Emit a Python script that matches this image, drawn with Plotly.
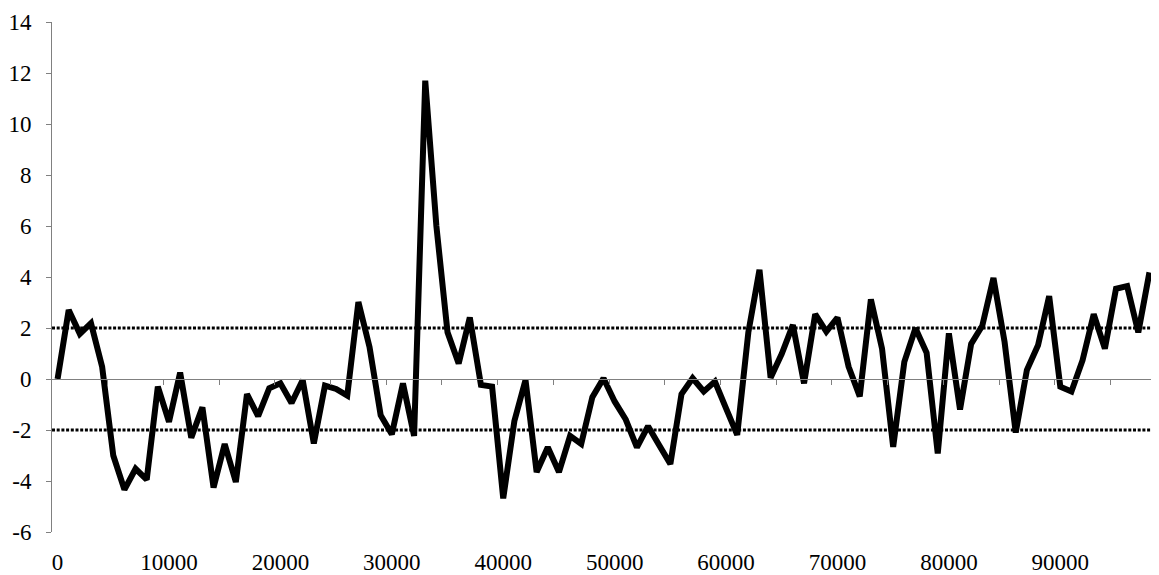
import plotly.graph_objects as go

# Categories: sample positions (one every 1000)
x_values = list(range(0, 99000, 1000))

# Series values
y_values = [
    0.00, 2.71, 1.77, 2.19, 0.48, -3.00, -4.34, -3.52, -3.95, -0.30,
    -1.68, 0.25, -2.30, -1.11, -4.26, -2.55, -4.04, -0.59, -1.46, -0.36,
    -0.17, -0.94, -0.04, -2.53, -0.26, -0.39, -0.65, 3.02, 1.25, -1.42,
    -2.17, -0.17, -2.23, 11.70, 6.00, 1.83, 0.61, 2.41, -0.23, -0.30,
    -4.68, -1.65, -0.04, -3.65, -2.68, -3.65, -2.23, -2.55, -0.71, 0.03,
    -0.88, -1.59, -2.68, -1.85, -2.60, -3.33, -0.59, 0.03, -0.49, -0.10,
    -1.15, -2.19, 1.83, 4.28, 0.05, 0.99, 2.12, -0.17, 2.54, 1.86,
    2.41, 0.48, -0.68, 3.12, 1.19, -2.66, 0.67, 1.99, 1.03, -2.92,
    1.79, -1.20, 1.38, 2.09, 3.96, 1.45, -2.10, 0.35, 1.32, 3.25,
    -0.30, -0.49, 0.74, 2.54, 1.19, 3.54, 3.64, 1.83, 4.18,
]

# Threshold lines
thresholds = [2, -2]

# Axis tick labels
x_tick_labels = [0, 10000, 20000, 30000, 40000, 50000, 60000, 70000, 80000, 90000]
y_tick_labels = [-6, -4, -2, 0, 2, 4, 6, 8, 10, 12, 14]

step = x_values[1] - x_values[0]
half = step / 2
x_range = [x_values[0] - half, x_values[-1] + half]
# tick marks between categories, every 5 categories
x_minor_ticks = [x_values[0] - half + 5 * step * i for i in range(1, 20)]

FONT = "Liberation Serif"
AXIS_COLOR = "#808080"

fig = go.Figure()

fig.add_trace(go.Scatter(
    x=x_values, y=y_values, mode="lines",
    line=dict(color="black", width=6),
    xaxis="x", yaxis="y", showlegend=False, hoverinfo="x+y",
))
# invisible trace to carry the bottom label axis
fig.add_trace(go.Scatter(
    x=[x_values[0]], y=[y_values[0]], mode="markers",
    marker=dict(opacity=0), xaxis="x2", yaxis="y",
    showlegend=False, hoverinfo="skip",
))

for t in thresholds:
    fig.add_shape(type="line", xref="paper", yref="y", x0=0, x1=1, y0=t, y1=t,
                  line=dict(color="black", width=3, dash="3px,1.7px"), layer="above")

ymin, ymax = y_tick_labels[0], y_tick_labels[-1]
zero_pos = (0 - ymin) / (ymax - ymin)

# page body has an 8px default margin; size the figure to fit the window
fig.update_layout(
    width=1151, height=567,
    margin=dict(l=44, r=4, t=14, b=43, autoexpand=False),
    paper_bgcolor="white", plot_bgcolor="white",
    font=dict(family=FONT, size=23, color="black"),
    xaxis=dict(
        range=x_range, anchor="free", position=zero_pos,
        showline=True, linecolor=AXIS_COLOR, linewidth=1,
        tickmode="array", tickvals=x_minor_ticks, ticks="outside",
        ticklen=5, tickcolor=AXIS_COLOR, tickwidth=1,
        showticklabels=False, showgrid=False, zeroline=False,
    ),
    xaxis2=dict(
        matches="x", overlaying="x", anchor="y", side="bottom",
        showline=False, ticks="outside", ticklen=9, tickcolor="rgba(0,0,0,0)",
        showgrid=False, zeroline=False, automargin=False,
        tickmode="array", tickvals=x_tick_labels,
        ticktext=[str(v) for v in x_tick_labels],
        ticklabeloverflow="allow",
        tickfont=dict(family=FONT, size=23, color="black"),
    ),
    yaxis=dict(
        range=[ymin, ymax], tickmode="array", tickvals=y_tick_labels,
        ticktext=[str(v) for v in y_tick_labels],
        showline=True, linecolor=AXIS_COLOR, linewidth=1,
        ticks="outside", ticklen=5, tickcolor=AXIS_COLOR, tickwidth=1,
        showgrid=False, zeroline=False, ticklabelstandoff=10, automargin=False,
        ticklabeloverflow="allow",
        tickfont=dict(family=FONT, size=23, color="black"),
    ),
)

fig.write_html("out.html")
